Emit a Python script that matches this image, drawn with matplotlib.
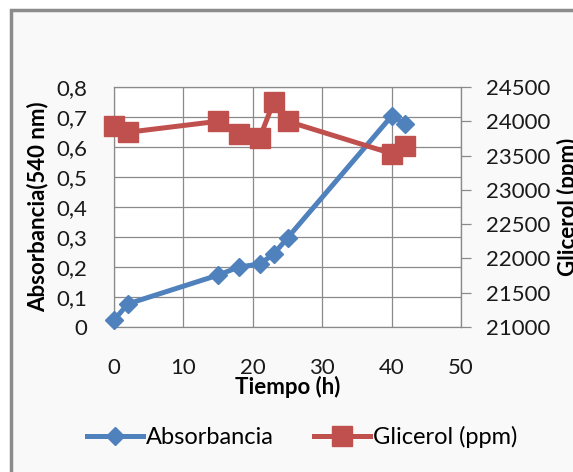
import matplotlib.pyplot as plt
import numpy as np
from matplotlib.patches import Rectangle
from matplotlib.lines import Line2D
from matplotlib.colors import LinearSegmentedColormap

plt.rcParams['font.family'] = ['Lato', 'DejaVu Sans']

# Data
tiempo = [0, 2, 15, 18, 21, 23, 25, 40, 42]
absorbancia = [0.023, 0.077, 0.173, 0.2, 0.21, 0.243, 0.297, 0.703, 0.677]
glicerol = [23930, 23840, 24000, 23810, 23760, 24280, 24000, 23530, 23640]

y1_ticks = [0, 0.1, 0.2, 0.3, 0.4, 0.5, 0.6, 0.7, 0.8]
y2_ticks = [21000, 21500, 22000, 22500, 23000, 23500, 24000, 24500]
x_ticks = [0, 10, 20, 30, 40, 50]

blue = '#4F81BD'
red = '#C0504D'
grid_col = '#8a8a8a'
txt = '#1a1a1a'
W, H = 573, 472

fig = plt.figure(figsize=(W / 100, H / 100), dpi=100)
fig.patch.set_facecolor('white')

# chart frame with light fill and a shaded left edge
fig.patches.append(Rectangle((11 / W, -0.01), 1.05, 1 - 10 / H + 0.01,
                             transform=fig.transFigure, facecolor='#f9f9f9',
                             edgecolor='#8c8c8c', linewidth=2.5, zorder=0))
bev = fig.add_axes([12.5 / W, 0, 28 / W, 1 - 11.5 / H], zorder=0)
grad = np.linspace(0, 1, 64)[None, :]
bev.imshow(grad, cmap=LinearSegmentedColormap.from_list('b', ['#d2d2d2', '#f9f9f9']),
           aspect='auto', extent=[0, 1, 0, 1])
bev.axis('off')

ax = fig.add_axes([114 / W, 1 - 327 / H, 347 / W, 240 / H], zorder=2)
ax.set_facecolor('white')
ax.set_xlim(0, 50)
ax.set_ylim(0, 0.8)
ax.set_xticks(x_ticks)
ax.set_yticks(y1_ticks)
ax.set_yticklabels(['0' if v == 0 else f'{v:.1f}'.replace('.', ',') for v in y1_ticks])
ax.grid(True, color=grid_col, linewidth=0.9)
ax.set_axisbelow(True)
for s in ax.spines.values():
    s.set_color(grid_col)
    s.set_linewidth(0.9)
ax.tick_params(axis='x', length=0, pad=22, labelsize=16, colors=txt)
ax.tick_params(axis='y', length=0, pad=19, labelsize=16, colors=txt)
ax.set_xlabel('Tiempo (h)', fontsize=16, fontweight='bold')
ax.xaxis.set_label_coords(0.5, -0.205)
ax.set_ylabel('Absorbancia(540 nm)', fontsize=16, fontweight='bold')
ax.yaxis.set_label_coords(-0.19, 0.5)

ax.plot(tiempo, absorbancia, color=blue, linewidth=3.6, marker='D',
        markersize=9.5, zorder=3, clip_on=False)

ax2 = ax.twinx()
ax2.set_ylim(21000, 24500)
ax2.set_yticks(y2_ticks)
ax2.tick_params(axis='y', direction='out', length=7, width=0.9, color=grid_col,
                pad=11, labelsize=16, labelcolor=txt)
for s in ax2.spines.values():
    s.set_visible(False)
ax2.spines['right'].set_visible(True)
ax2.spines['right'].set_color(grid_col)
ax2.plot(tiempo, glicerol, color=red, linewidth=3.6, marker='s',
         markersize=15, zorder=3, clip_on=False)
ax2.set_ylabel('Glicerol (ppm)', fontsize=16, fontweight='bold')
ax2.yaxis.set_label_coords(1.277, 0.5)

handles = [Line2D([], [], color=blue, linewidth=3.6, marker='D', markersize=9),
           Line2D([], [], color=red, linewidth=3.6, marker='s', markersize=14)]
fig.legend(handles, ['Absorbancia', 'Glicerol (ppm)'], loc='center',
           bbox_to_anchor=(302 / W, 1 - 437 / H), ncol=2, frameon=False,
           fontsize=17, handlelength=2.4, handletextpad=0.1, columnspacing=1.7)

fig.savefig('out.png', dpi=100, facecolor=fig.get_facecolor())
